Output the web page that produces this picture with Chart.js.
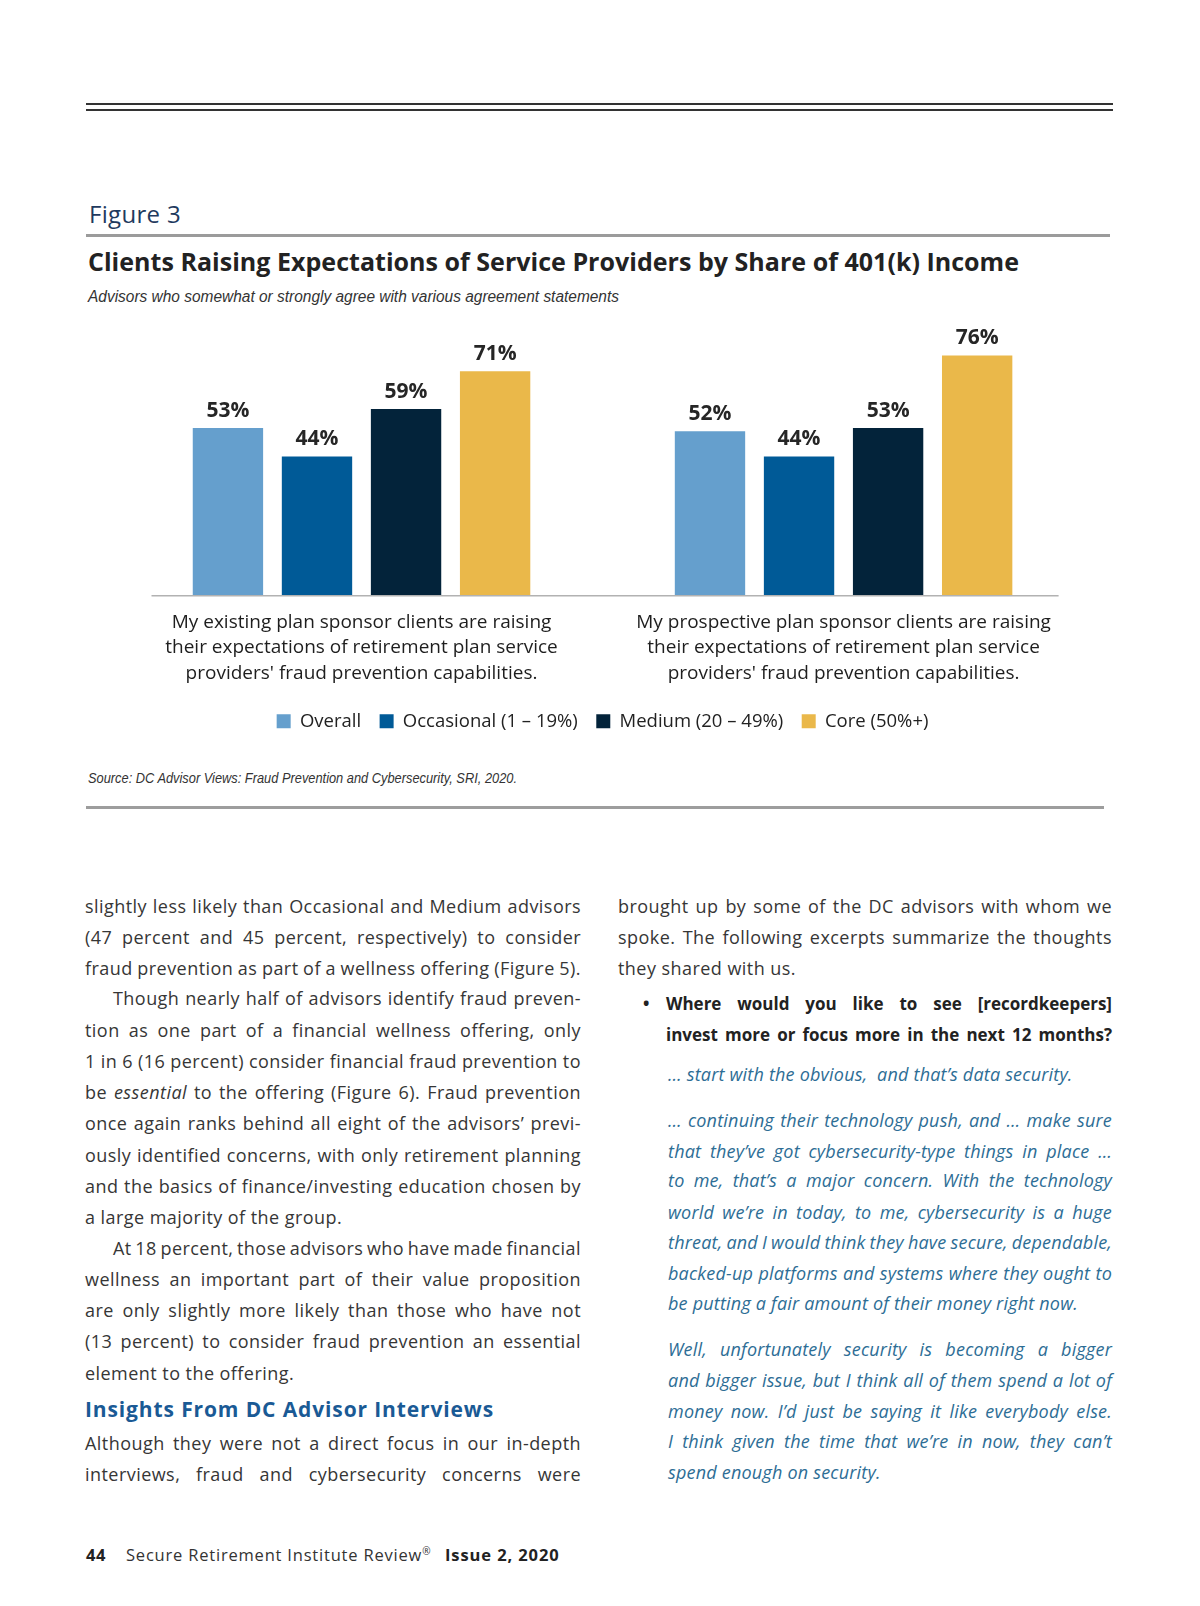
<!DOCTYPE html>
<html>
<head>
<meta charset="utf-8">
<script src="https://cdn.jsdelivr.net/npm/chart.js"></script>
<style>
  body { margin: 0; width: 1200px; height: 1606px; position: relative; background: #fff; overflow: hidden;
         font-family: "Open Sans", sans-serif; color: #363636; }
  .rule { position: absolute; }
  .t { position: absolute; white-space: nowrap; line-height: 30px; font-size: 18px; letter-spacing: 0.45px; }
  .q { color: #2d6d95; font-style: italic; letter-spacing: 0.2px; }
  .b { font-weight: 700; color: #222; font-size: 17px; letter-spacing: 0; }
  .narrow { font-family: "Liberation Sans Narrow", "Liberation Sans", sans-serif; font-style: italic; color: #333; transform-origin: left center; letter-spacing: 0; }
  #chart { position: absolute; left: 100px; top: 260px; }
</style>
</head>
<body>

<div class="rule" style="left:86px;top:103px;width:1027px;height:2px;background:#333"></div>
<div class="rule" style="left:86px;top:109px;width:1027px;height:2px;background:#333"></div>

<div class="t" id="fig" style="left:89px;top:199px;font-size:24px;letter-spacing:0;color:#1f3a5e">Figure 3</div>
<div class="rule" style="left:86px;top:234px;width:1024px;height:2.5px;background:#9b9b9b"></div>
<div class="t" id="title" style="left:88px;top:244px;line-height:34px;font-size:25px;font-weight:700;letter-spacing:0;color:#222">Clients Raising Expectations of Service Providers by Share of 401(k) Income</div>
<div class="t narrow" id="subtitle" style="left:88px;top:287px;line-height:20px;font-size:16px">Advisors who somewhat or strongly agree with various agreement statements</div>

<canvas id="chart" width="1000" height="483"></canvas>

<div class="t narrow" id="source" style="left:88px;top:768px;line-height:20px;font-size:14px">Source: DC Advisor Views: Fraud Prevention and Cybersecurity, SRI, 2020.</div>
<div class="rule" style="left:86px;top:806px;width:1018px;height:3px;background:#9d9d9d"></div>

<!-- left column -->
<div class="t j" data-w="496" style="left:85px;top:891px">slightly less likely than Occasional and Medium advisors</div>
<div class="t j" data-w="496" style="left:85px;top:922px">(47 percent and 45 percent, respectively) to consider</div>
<div class="t j" data-w="496" style="left:85px;top:953px">fraud prevention as part of a wellness offering (Figure 5).</div>
<div class="t j" data-w="468" style="left:113px;top:983px">Though nearly half of advisors identify fraud preven-</div>
<div class="t j" data-w="496" style="left:85px;top:1015px">tion as one part of a financial wellness offering, only</div>
<div class="t j" data-w="496" style="left:85px;top:1046px">1 in 6 (16 percent) consider financial fraud prevention to</div>
<div class="t j" data-w="496" style="left:85px;top:1077px">be <i>essential</i> to the offering (Figure 6). Fraud prevention</div>
<div class="t j" data-w="496" style="left:85px;top:1108px">once again ranks behind all eight of the advisors’ previ-</div>
<div class="t j" data-w="496" style="left:85px;top:1140px">ously identified concerns, with only retirement planning</div>
<div class="t j" data-w="496" style="left:85px;top:1171px">and the basics of finance/investing education chosen by</div>
<div class="t" style="left:85px;top:1202px">a large majority of the group.</div>
<div class="t j" data-w="468" style="left:113px;top:1233px">At 18 percent, those advisors who have made financial</div>
<div class="t j" data-w="496" style="left:85px;top:1264px">wellness an important part of their value proposition</div>
<div class="t j" data-w="496" style="left:85px;top:1295px">are only slightly more likely than those who have not</div>
<div class="t j" data-w="496" style="left:85px;top:1326px">(13 percent) to consider fraud prevention an essential</div>
<div class="t" style="left:85px;top:1358px">element to the offering.</div>
<div class="t" id="insights" style="left:85px;top:1394px;font-size:21px;font-weight:700;letter-spacing:0;color:#1a5a95">Insights From DC Advisor Interviews</div>
<div class="t j" data-w="496" style="left:85px;top:1428px">Although they were not a direct focus in our in-depth</div>
<div class="t j" data-w="496" style="left:85px;top:1459px">interviews, fraud and cybersecurity concerns were</div>

<!-- right column -->
<div class="t j" data-w="494" style="left:618px;top:891px">brought up by some of the DC advisors with whom we</div>
<div class="t j" data-w="494" style="left:618px;top:922px">spoke. The following excerpts summarize the thoughts</div>
<div class="t" style="left:618px;top:953px">they shared with us.</div>
<div class="t b" style="left:643px;top:989px">•</div>
<div class="t b j" data-w="446" style="left:666px;top:989px">Where would you like to see [recordkeepers]</div>
<div class="t b j" data-w="446" style="left:666px;top:1020px">invest more or focus more in the next 12 months?</div>
<div class="t q" style="left:668px;top:1059px">… start with the obvious,&nbsp; and that’s data security.</div>
<div class="t q j" data-w="444" style="left:668px;top:1105px">… continuing their technology push, and … make sure</div>
<div class="t q j" data-w="444" style="left:668px;top:1136px">that they’ve got cybersecurity-type things in place …</div>
<div class="t q j" data-w="444" style="left:668px;top:1165px">to me, that’s a major concern. With the technology</div>
<div class="t q j" data-w="444" style="left:668px;top:1197px">world we’re in today, to me, cybersecurity is a huge</div>
<div class="t q j" data-w="444" style="left:668px;top:1227px">threat, and I would think they have secure, dependable,</div>
<div class="t q j" data-w="444" style="left:668px;top:1258px">backed-up platforms and systems where they ought to</div>
<div class="t q" style="left:668px;top:1288px">be putting a fair amount of their money right now.</div>
<div class="t q j" data-w="444" style="left:668px;top:1334px">Well, unfortunately security is becoming a bigger</div>
<div class="t q j" data-w="444" style="left:668px;top:1365px">and bigger issue, but I think all of them spend a lot of</div>
<div class="t q j" data-w="444" style="left:668px;top:1396px">money now. I’d just be saying it like everybody else.</div>
<div class="t q j" data-w="444" style="left:668px;top:1426px">I think given the time that we’re in now, they can’t</div>
<div class="t q" style="left:668px;top:1457px">spend enough on security.</div>

<!-- footer -->
<div class="t b" style="left:86px;top:1540px;font-size:16.5px;letter-spacing:0.6px">44</div>
<div class="t" style="left:126px;top:1540px;font-size:16.5px;letter-spacing:0.8px;color:#333">Secure Retirement Institute Review<sup style="font-size:10px;line-height:0">®</sup></div>
<div class="t b" style="left:445px;top:1540px;font-size:16.5px;letter-spacing:0.9px">Issue 2, 2020</div>

<script>
const categories = [
  ['My existing plan sponsor clients are raising', 'their expectations of retirement plan service', "providers' fraud prevention capabilities."],
  ['My prospective plan sponsor clients are raising', 'their expectations of retirement plan service', "providers' fraud prevention capabilities."]
];
const seriesNames = ['Overall', 'Occasional (1 – 19%)', 'Medium (20 – 49%)', 'Core (50%+)'];
const overall = [53, 52];
const occasional = [44, 44];
const medium = [59, 53];
const core = [71, 76];

const barColors = ['#659fcd', '#005a97', '#03233a', '#eab84a'];

// value labels on top of each bar
const valueLabels = {
  id: 'valueLabels',
  afterDatasetsDraw(chart) {
    const ctx = chart.ctx;
    ctx.save();
    ctx.font = 'bold 21px "Open Sans"';
    ctx.fillStyle = '#262626';
    ctx.textAlign = 'center';
    ctx.textBaseline = 'middle';
    chart.data.datasets.forEach((ds, i) => {
      chart.getDatasetMeta(i).data.forEach((bar, j) => {
        ctx.fillText(ds.data[j] + '%', bar.x, bar.y - 17);
      });
    });
    ctx.restore();
  }
};

// grey baseline, a bit shorter than the plot area
const baseLine = {
  id: 'baseLine',
  afterDatasetsDraw(chart) {
    const { ctx, chartArea, scales } = chart;
    const y = scales.y.getPixelForValue(0);
    ctx.save();
    ctx.strokeStyle = '#b2b2b2';
    ctx.lineWidth = 1.5;
    ctx.beginPath();
    ctx.moveTo(chartArea.left + 31, y + 0.5);
    ctx.lineTo(chartArea.right - 26, y + 0.5);
    ctx.stroke();
    ctx.restore();
  }
};

const series = [overall, occasional, medium, core];

new Chart(document.getElementById('chart'), {
  type: 'bar',
  data: {
    labels: categories,
    datasets: series.map((vals, i) => ({
      label: seriesNames[i],
      data: vals,
      backgroundColor: barColors[i],
      borderWidth: 0,
      barPercentage: 0.79,
      categoryPercentage: 0.739
    }))
  },
  options: {
    responsive: false,
    animation: false,
    layout: { padding: { left: 20.5, right: 15.4, top: 19.7, bottom: 2.5 } },
    scales: {
      x: {
        grid: { display: false },
        border: { display: false },
        ticks: { color: '#1e1e1e', padding: 6.5, font: { family: 'Open Sans', size: 19, lineHeight: 1.34 } },
        afterFit(scale) { scale.height = 98.25; }
      },
      y: { display: false, min: 0, max: 100 }
    },
    plugins: {
      legend: {
        position: 'bottom',
        labels: { boxWidth: 14, boxHeight: 14, padding: 18.5, color: '#222', font: { family: 'Open Sans', size: 18.5 } }
      },
      tooltip: { enabled: false }
    }
  },
  plugins: [valueLabels, baseLine]
});

// text fitting helpers
function justify(el, w) {
  const spaces = (el.textContent.match(/ /g) || []).length;
  const nat = el.getBoundingClientRect().width;
  if (spaces) el.style.wordSpacing = ((w - nat) / spaces) + 'px';
}
function spread(el, w) {
  const nat = el.getBoundingClientRect().width;
  el.style.letterSpacing = ((w - nat) / el.textContent.length) + 'px';
}
function squeeze(el, w) {
  const nat = el.getBoundingClientRect().width;
  el.style.transform = 'scaleX(' + (w / nat) + ')';
}
document.querySelectorAll('.j').forEach(el => justify(el, +el.dataset.w));
spread(document.getElementById('title'), 931);
spread(document.getElementById('insights'), 409);
spread(document.getElementById('fig'), 92);
squeeze(document.getElementById('subtitle'), 531);
squeeze(document.getElementById('source'), 429);
</script>
</body>
</html>
